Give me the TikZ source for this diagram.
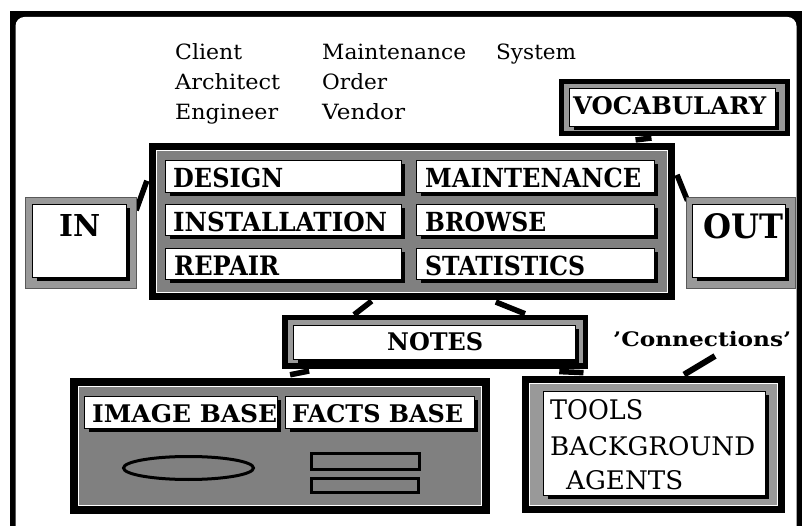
\documentclass[tikz,border=0pt]{standalone}
\usepackage{fontspec}
\setmainfont{DejaVu Serif}
\usepackage{graphicx}
\usetikzlibrary{fit,shadows,calc}

% scale a text to a given width (and height)
\newcommand\fitwh[3]{\resizebox{#1}{#2}{#3}}
\newcommand\fitw[2]{\resizebox{#1}{\height}{#2}}

\definecolor{stipdark}{gray}{0.50}
\definecolor{stiplight}{gray}{0.60}

\pgfdeclarelayer{frame}
\pgfdeclarelayer{links}
\pgfsetlayers{frame,links,main}

\tikzset{
  panel/.style={draw=black, fill=stipdark, inner sep=0pt},
  lightpanel/.style={draw=black, fill=stiplight, inner sep=0pt},
  plate/.style={draw=black!65, line width=1pt, fill=stiplight, inner sep=0pt},
  slot/.style={draw=black, line width=1.4pt, fill=white, inner sep=0pt,
    drop shadow={shadow xshift=3.8pt, shadow yshift=-3.8pt, opacity=1, fill=black}},
  bl/.style={inner sep=0pt, anchor=base west, font=\fontsize{26}{26}\selectfont\bfseries},
  pl/.style={inner sep=0pt, anchor=base west, font=\fontsize{21}{21}\selectfont},
  tl/.style={inner sep=0pt, anchor=base west, font=\fontsize{27}{27}\selectfont},
  link/.style={draw=black, line width=5.5pt, shorten <=-4pt, shorten >=-4pt},
  hairline/.style={draw=white, line width=1.3pt},
  blob/.style={draw=black, line width=3pt, fill=stipdark},
}

% white labelled slot with a hard black shadow: name, x1, y1, x2, y2 (outer edges)
\newcommand\mkslot[5]{\node[slot, fit={(#2+0.7,#3+0.7)(#4-0.7,#5-0.7)}] (#1) {};}

\begin{document}
\begin{tikzpicture}[x=1pt,y=-1pt]
\useasboundingbox (0,0) rectangle (806,526);

% window frame
\begin{pgfonlayer}{frame}
  \fill[black] (10,11) rectangle (802,545);
  \fill[white, rounded corners=9pt] (15.5,17) rectangle (796.5,535);
\end{pgfonlayer}

% word list
\node[pl] (wclient)  at (175,60)  {\fitw{67pt}{Client}};
\node[pl] (warch)    at (175,90)  {\fitw{105pt}{Architect}};
\node[pl] (weng)     at (175,120) {\fitw{103pt}{Engineer}};
\node[pl] (wmaint)   at (322,60)  {\fitw{144pt}{Maintenance}};
\node[pl] (worder)   at (322,90)  {\fitw{65pt}{Order}};
\node[pl] (wvendor)  at (322,120) {\fitw{83pt}{Vendor}};
\node[pl] (wsystem)  at (496,60)  {\fitw{80pt}{System}};

% vocabulary
\node[lightpanel, line width=5pt, fit={(561.5,81.5)(787.5,133.5)}] (vocab) {};
\mkslot{svocab}{569}{88}{776}{127}
\node[bl] (tvocab) at (573,115) {\fitwh{193pt}{18pt}{VOCABULARY}};

% main function panel
\node[panel, line width=7pt, fit={(152.5,146.5)(671.5,296.5)}] (main) {};
\draw[hairline] (156.7,150.7) rectangle (667.3,292.3);
\mkslot{sdesign}{165}{160}{402}{193}
\mkslot{sinstall}{165}{204}{402}{236}
\mkslot{srepair}{165}{248}{402}{280}
\mkslot{smaint}{416}{160}{655}{193}
\mkslot{sbrowse}{416}{204}{655}{236}
\mkslot{sstats}{416}{248}{655}{280}
\node[bl] (tdesign)  at (173,188) {\fitwh{110pt}{19.5pt}{DESIGN}};
\node[bl] (tinstall) at (173,232) {\fitwh{214pt}{19.5pt}{INSTALLATION}};
\node[bl] (trepair)  at (174,276) {\fitwh{105pt}{19.5pt}{REPAIR}};
\node[bl] (tmaint)   at (425,188) {\fitwh{216pt}{19.5pt}{MAINTENANCE}};
\node[bl] (tbrowse)  at (425,232) {\fitwh{121pt}{19.5pt}{BROWSE}};
\node[bl] (tstats)   at (425,276) {\fitwh{160pt}{19.5pt}{STATISTICS}};

% input / output
\node[plate, fit={(25.5,197.5)(136.5,288.5)}] (inbox) {};
\mkslot{sin}{32}{204}{127}{278}
\node[bl] (tin) at (59,237) {\fitwh{41pt}{22pt}{IN}};
\node[plate, fit={(686.5,197.5)(795.5,288.5)}] (outbox) {};
\mkslot{sout}{692}{204}{786}{278}
\node[bl] (tout) at (703,239) {\fitwh{80pt}{25pt}{OUT}};

% notes
\node[lightpanel, line width=5.5pt, fit={(284.75,317.75)(585.25,366.25)}] (notes) {};
\mkslot{snotes}{293}{325}{576}{360}
\node[bl] (tnotes) at (387,351) {\fitwh{96pt}{18pt}{NOTES}};

% image and facts bases
\node[panel, line width=8pt, fit={(74,382)(486,510)}] (db) {};
\draw[hairline] (78.8,386.8) rectangle (481.2,505.2);
\mkslot{simage}{84}{396}{278}{429}
\mkslot{sfacts}{285}{396}{475}{429}
\node[bl] (timage) at (92,423)  {\fitwh{185pt}{18pt}{IMAGE BASE}};
\node[bl] (tfacts) at (292,423) {\fitwh{171pt}{18pt}{FACTS BASE}};
\draw[blob] (188.5,468) ellipse [x radius=65pt, y radius=11.5pt];
\draw[blob] (311.5,453.5) rectangle (419.5,469.5);
\draw[blob] (311.5,478.5) rectangle (418.5,492.5);

% tools panel
\node[lightpanel, line width=7pt, fit={(525.5,379.5)(781.5,509.5)}] (tools) {};
\draw[hairline] (529.7,383.7) rectangle (777.3,505.3);
\mkslot{stools}{543}{391}{766}{496}
\node[tl] (ttools) at (550,420) {\fitwh{93pt}{20pt}{TOOLS}};
\node[tl] (tback)  at (550,455) {\fitwh{205pt}{19pt}{BACKGROUND}};
\node[tl] (tagent) at (566,489) {\fitwh{117pt}{19pt}{AGENTS}};

\node[pl, font=\fontsize{20}{20}\selectfont\bfseries] (tconn) at (613,347) {\fitw{178pt}{'Connections'}};

% connectors
\begin{pgfonlayer}{links}
  \draw[link] ($(inbox.north east)+(0.5,9.5)$) -- ($(main.north west)+(-3.5,41.5)$);
  \draw[link] ($(main.north east)+(3.5,35.5)$) -- (outbox.north west);
  \draw[link] ($(vocab.south west)+(88.5,2.5)$) -- ($(main.north west)+(490.5,-3.5)$);
  \draw[link] ($(main.south west)+(219.5,3.5)$) -- ($(notes.north west)+(75.25,-2.75)$);
  \draw[link] ($(main.south west)+(350.5,3.5)$) -- ($(notes.north west)+(239.25,-2.75)$);
  \draw[link] ($(notes.south west)+(23.25,2.75)$) -- ($(db.north west)+(224,-4)$);
  \draw[link] ($(notes.south west)+(281.25,2.75)$) -- ($(tools.north west)+(57.5,-3.5)$);
  \draw[link, line width=6pt, shorten <=0pt] ($(tconn.base west)+(102,9)$) -- ($(tools.north west)+(165.5,-3.5)$);
\end{pgfonlayer}
\end{tikzpicture}
\end{document}
